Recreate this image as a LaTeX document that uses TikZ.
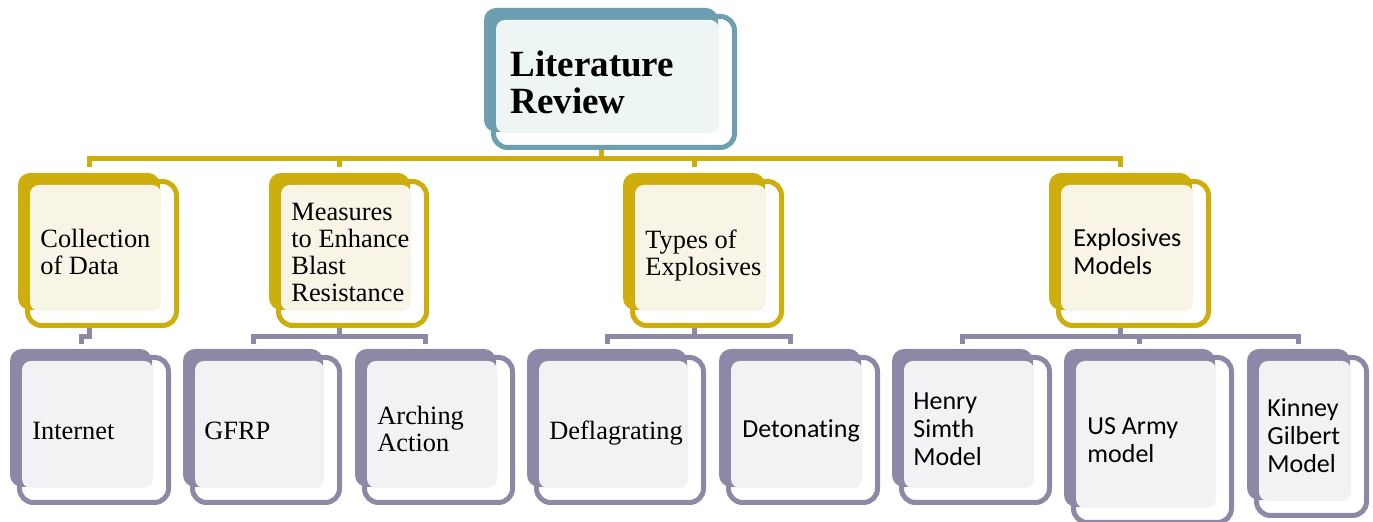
\documentclass[tikz,border=0pt]{standalone}
\usepackage{fontspec}
\setmainfont{Liberation Serif}
\newfontfamily\calibri[Ligatures=NoCommon]{Carlito}
\usetikzlibrary{fit,backgrounds}

\definecolor{revteal}{RGB}{110,159,176}
\definecolor{revtealpale}{RGB}{238,245,245}
\definecolor{revgold}{RGB}{206,174,12}
\definecolor{revgoldpale}{RGB}{248,245,230}
\definecolor{revmauve}{RGB}{140,136,166}
\definecolor{revmauvepale}{RGB}{242,242,244}

% name, corners of the back plate, colour
\newcommand{\revbox}[6]{%
  \draw[rim=#6] (#2+9.5,#3+8.5) rectangle (#4+16.5,#5+15.5);
  \node[back=#6, fit={(#2,#3) (#4,#5)}] (#1) {};
  \fill[face=#6] (#2+12,#3+12) rectangle (#4+1,#5+1);
}

\begin{document}
\begin{tikzpicture}[x=0.5pt, y=-0.5pt,
    rim/.style={draw=#1, line width=2.5pt, fill=white, rounded corners=7pt},
    back/.style={fill=#1, rounded corners=6pt, inner sep=0pt},
    face/.style={fill=#1pale, rounded corners=4.5pt},
    link/.style={draw=#1, line width=2.5pt},
    serif/.style={anchor=base west, align=left, inner sep=0pt, font=\fontsize{13.2}{13.6}\selectfont},
    sans/.style={anchor=base west, align=left, inner sep=0pt, font=\calibri\fontsize{13}{14}\selectfont}]
  \useasboundingbox (0,0) rectangle (1373,522);

  \revbox{review}{484}{8}{718}{132}{revteal}

  \revbox{collect}{18}{173}{160}{310}{revgold}
  \revbox{measures}{269}{173}{410}{310}{revgold}
  \revbox{types}{623}{173}{765}{310}{revgold}
  \revbox{models}{1049}{173}{1192}{310}{revgold}

  \revbox{internet}{10}{349}{152}{487}{revmauve}
  \revbox{gfrp}{183}{349}{323}{487}{revmauve}
  \revbox{arching}{355}{349}{496}{487}{revmauve}
  \revbox{deflag}{527}{349}{687}{487}{revmauve}
  \revbox{deton}{719}{349}{861}{487}{revmauve}
  \revbox{henry}{892}{349}{1033}{487}{revmauve}
  \revbox{usarmy}{1064}{349}{1215}{507}{revmauve}
  \revbox{kinney}{1247}{349}{1350}{500}{revmauve}

  % connectors go under the boxes
  \begin{scope}[on background layer]
    \foreach \kid in {collect,measures,types,models}
      \draw[link=revgold] (review.south) -- ++(0,26) -| ([yshift=3pt]\kid.north);
    \draw[link=revmauve] (collect.south) -- ++(0,26) -| ([yshift=2.5pt]internet.north);
    \foreach \kid in {gfrp,arching}
      \draw[link=revmauve] (measures.south) -- ++(0,26) -| ([yshift=2.5pt]\kid.north);
    \foreach \kid in {deflag,deton}
      \draw[link=revmauve] (types.south) -- ++(0,26) -| ([yshift=2.5pt]\kid.north);
    \foreach \kid in {henry,usarmy,kinney}
      \draw[link=revmauve] (models.south) -- ++(0,26) -| ([yshift=2.5pt]\kid.north);
  \end{scope}

  % text sits on the baseline of its last line
  \node[serif, font=\bfseries\fontsize{18.5}{18.5}\selectfont] (reviewtxt) at (510,114) {Literature\\Review};

  \node[serif] (collecttxt) at (40,275) {Collection\\of Data};
  \node[serif] (measurestxt) at (291,302) {Measures\\to Enhance\\Blast\\Resistance};
  \node[serif] (typestxt) at (645,276) {Types of\\Explosives};
  \node[sans] (modelstxt) at (1073,275) {Explosives\\Models};

  \node[serif] (internettxt) at (32,440) {Internet};
  \node[serif] (gfrptxt) at (204,440) {GFRP};
  \node[serif] (archingtxt) at (377,452) {Arching\\Action};
  \node[serif] (deflagtxt) at (549,440) {Deflagrating};
  \node[sans] (detontxt) at (742,438) {Detonating};
  \node[sans] (henrytxt) at (913,466) {Henry\\Simth\\Model};
  \node[sans] (usarmytxt) at (1087,463) {US Army\\model};
  \node[sans] (kinneytxt) at (1267,473) {Kinney\\Gilbert\\Model};
\end{tikzpicture}
\end{document}
